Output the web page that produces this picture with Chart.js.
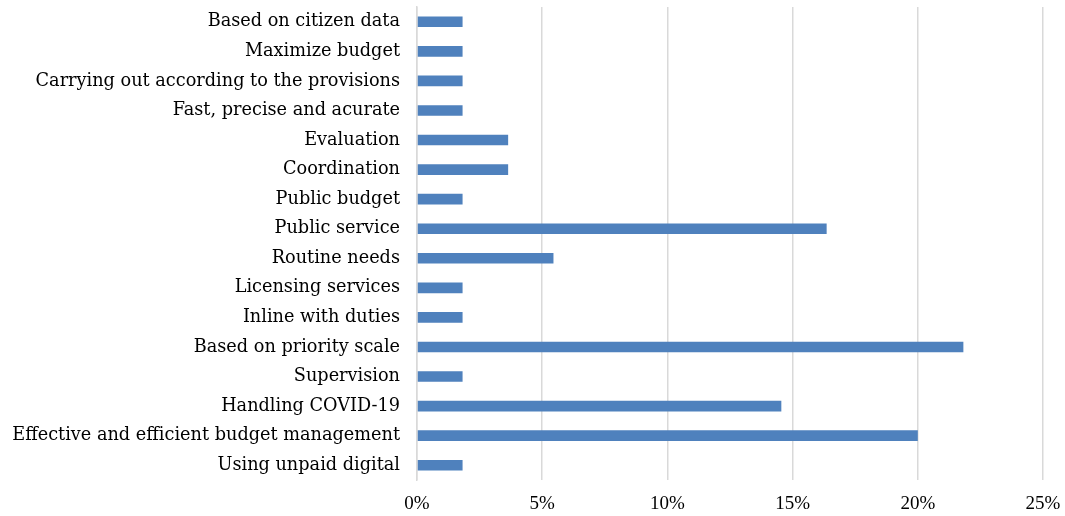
<!DOCTYPE html>
<html>
<head>
<meta charset="utf-8">
<script src="https://cdn.jsdelivr.net/npm/chart.js@4/dist/chart.umd.min.js"></script>
<style>
  html, body { margin: 0; padding: 0; background: #fff; }
  #wrap { width: 1065px; height: 516px; position: relative; }
</style>
</head>
<body>
<div id="wrap"><canvas id="chart"></canvas></div>
<script>
// Categories, top to bottom
const categories = [
    'Based on citizen data',
    'Maximize budget',
    'Carrying out according to the provisions',
    'Fast, precise and acurate',
    'Evaluation',
    'Coordination',
    'Public budget',
    'Public service',
    'Routine needs',
    'Licensing services',
    'Inline with duties',
    'Based on priority scale',
    'Supervision',
    'Handling COVID-19',
    'Effective and efficient budget management',
    'Using unpaid digital'
];

// Share of responses (%)
const shares = [1.82, 1.82, 1.82, 1.82, 3.64, 3.64, 1.82, 16.36, 5.45, 1.82, 1.82, 21.82, 1.82, 14.55, 20.00, 1.82];

const xTicks = [0, 5, 10, 15, 20, 25];

new Chart(document.getElementById('chart'), {
    type: 'bar',
    data: {
        labels: categories,
        datasets: [{
            data: shares,
            backgroundColor: '#4F81BD',
            borderWidth: 0,
            barPercentage: 0.36,
            categoryPercentage: 1.0
        }]
    },
    options: {
        indexAxis: 'y',
        responsive: true,
        maintainAspectRatio: false,
        animation: false,
        layout: { padding: { top: 7, right: 22, bottom: 0, left: 0 } },
        plugins: {
            legend: { display: false },
            tooltip: { enabled: false }
        },
        scales: {
            x: {
                min: 0,
                max: 25,
                afterBuildTicks: axis => { axis.ticks = xTicks.map(v => ({ value: v })); },
                afterFit: axis => {
                    axis.height = 36;
                    axis.paddingLeft = 0;
                    axis.paddingRight = 0;
                },
                grid: { color: '#D9D9D9', lineWidth: 1.5, drawTicks: false },
                border: { display: false },
                ticks: {
                    padding: 13,
                    color: '#000',
                    font: { family: 'Liberation Serif', size: 19 },
                    callback: v => v + '%'
                }
            },
            y: {
                afterFit: axis => {
                    axis.width = 417;
                    axis.paddingTop = 0;
                    axis.paddingBottom = 0;
                },
                grid: { display: false },
                border: { display: true, color: '#D9D9D9', width: 1.5 },
                ticks: {
                    padding: 9,
                    color: '#000',
                    font: { family: 'DejaVu Serif', size: 17.7 }
                }
            }
        }
    }
});
</script>
</body>
</html>
